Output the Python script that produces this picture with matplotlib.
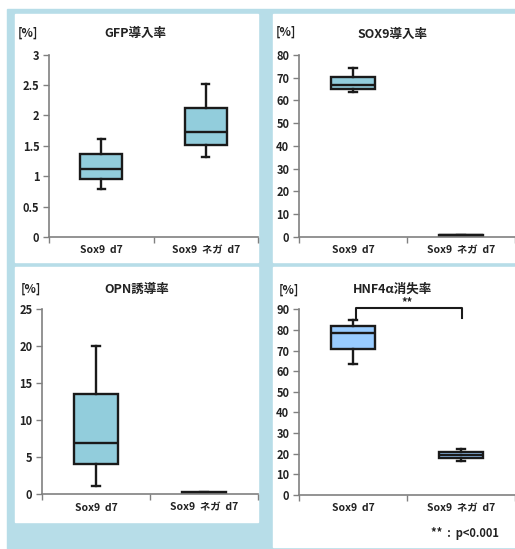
import matplotlib
matplotlib.use('Agg')
from matplotlib import pyplot as plt
from matplotlib.patches import Rectangle
from matplotlib.ticker import FuncFormatter

plt.rcParams['font.family'] = ['Noto Sans CJK JP', 'DejaVu Sans']

groups = ['Sox9  d7', 'Sox9  ネガ  d7']

# box stats: (low whisker, q1, median, q3, high whisker)
gfp = [(0.79, 0.96, 1.11, 1.37, 1.61), (1.32, 1.52, 1.72, 2.12, 2.52)]
sox9 = [(63.6, 65.2, 66.8, 70.5, 74.4), (0.4, 0.5, 0.6, 0.7, 0.8)]
opn = [(1.16, 4.05, 6.9, 13.6, 20.1), (0.1, 0.15, 0.2, 0.25, 0.3)]
hnf4a = [(63.3, 70.9, 78.7, 81.9, 84.7), (16.5, 18.1, 19.5, 20.7, 22.4)]

titles = ['GFP導入率', 'SOX9導入率', 'OPN誘導率', 'HNF4α消失率']
yticks_list = [[0, 0.5, 1, 1.5, 2, 2.5, 3],
               list(range(0, 81, 10)),
               list(range(0, 26, 5)),
               list(range(0, 91, 10))]

W, H = 515, 549
fig = plt.figure(figsize=(W / 100, H / 100), dpi=100)


def px(x0, y0, x1, y1):
    return [x0 / W, 1 - y1 / H, (x1 - x0) / W, (y1 - y0) / H]


# light blue frame and white panels, kept behind the axes
frame = '#b7dde8'
fig.patches.append(Rectangle((7 / W, 0), 1, 1 - 9 / H, transform=fig.transFigure,
                             color=frame, zorder=-2))
for x0, y0, x1, y1 in [(15, 14, 258, 262), (273, 14, 515, 262),
                       (15, 267, 258, 522), (273, 267, 515, 547)]:
    r = px(x0, y0, x1, y1)
    fig.patches.append(Rectangle((r[0], r[1]), r[2], r[3], transform=fig.transFigure,
                                 color='white', zorder=-1))

axes_px = [(49, 54.5, 258, 237), (299, 55, 515, 236.7),
           (42, 309.3, 258, 494.3), (299, 309.3, 515, 495)]
title_pos = [(135, 33), (393, 34), (137, 289), (393, 289)]
pct_pos = [(28, 33), (286, 32), (31, 289), (289, 290)]
data = [gfp, sox9, opn, hnf4a]
fills = ['#92cddc', '#92cddc', '#92cddc', '#99ccff']

for i in range(4):
    ax = fig.add_axes(px(*axes_px[i]))
    ax.patch.set_alpha(0)
    stats = []
    for g, (lo, q1, med, q3, hi) in zip(groups, data[i]):
        stats.append(dict(label=g, whislo=lo, q1=q1, med=med, q3=q3, whishi=hi, fliers=[]))
    ax.bxp(stats, positions=[1, 2], widths=0.4, capwidths=0.07, patch_artist=True,
           boxprops=dict(facecolor=fills[i], edgecolor='#1a1a1a', linewidth=1.7),
           medianprops=dict(color='#1a1a1a', linewidth=1.7),
           whiskerprops=dict(color='#1a1a1a', linewidth=1.7),
           capprops=dict(color='#1a1a1a', linewidth=1.7))
    yt = yticks_list[i]
    ax.set_ylim(0, yt[-1])
    ax.set_yticks(yt)
    ax.yaxis.set_major_formatter(FuncFormatter(lambda v, p: '{:g}'.format(v)))
    ax.set_xlim(0.5, 2.5)
    ax.set_xticks([0.5, 1.5, 2.5])
    ax.set_xticklabels(['', '', ''])
    ax.set_xticks([1, 2], minor=True)
    ax.set_xticklabels(groups, minor=True)
    ax.tick_params(axis='x', which='minor', length=0, pad=6, labelsize=7.5)
    ax.tick_params(axis='x', which='major', length=4, color='#808080', width=1)
    ax.tick_params(axis='y', length=4, color='#808080', width=1, pad=3, labelsize=8)
    for lab in ax.get_xticklabels(minor=True) + ax.get_yticklabels():
        lab.set_fontweight('bold')
        lab.set_color('#222222')
    for s in ['top', 'right']:
        ax.spines[s].set_visible(False)
    for s in ['left', 'bottom']:
        ax.spines[s].set_color('#808080')
        ax.spines[s].set_linewidth(1.2)

    tx, ty = title_pos[i]
    fig.text(tx / W, 1 - ty / H, titles[i], ha='center', va='center',
             fontsize=9, fontweight='bold', color='#222222')
    fx, fy = pct_pos[i]
    fig.text(fx / W, 1 - fy / H, '[%]', ha='center', va='center',
             fontsize=8.5, fontweight='bold', color='#222222')

    if i == 3:
        ax.plot([1.03, 1.03, 2.01, 2.01], [86, 90.8, 90.8, 86], color='#1a1a1a',
                linewidth=1.5, clip_on=False)
        ax.text(1.5, 93.2, '**', ha='center', va='center', fontsize=8,
                fontweight='bold', color='#222222')

fig.text(465 / W, 1 - 533 / H, '**  :  p<0.001', ha='center', va='center',
         fontsize=8, fontweight='bold', color='#222222')

plt.savefig('out.png', dpi=100)
